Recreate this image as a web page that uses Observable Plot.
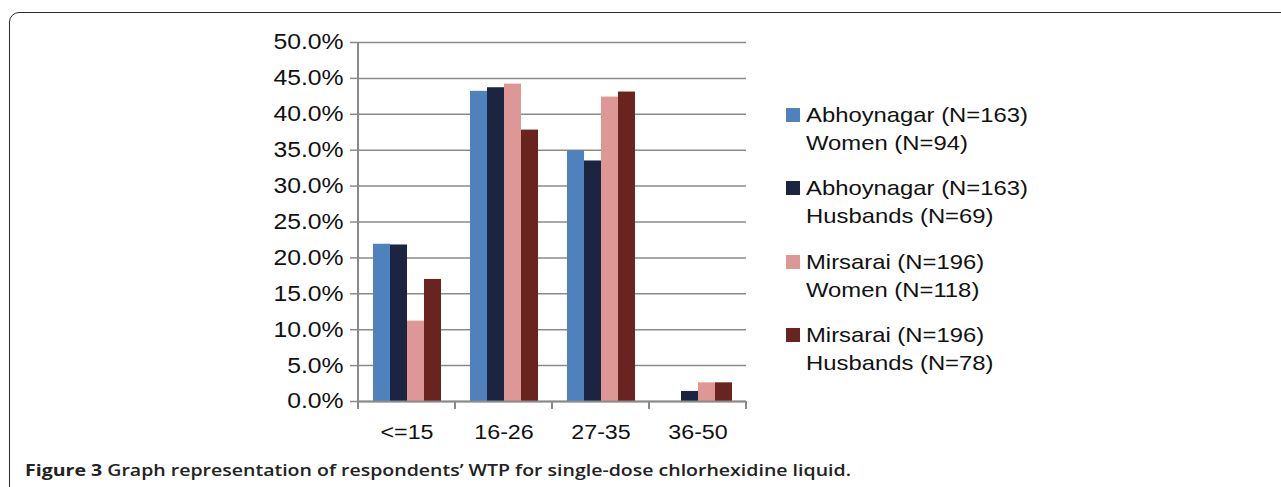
<!DOCTYPE html>
<html>
<head>
<meta charset="utf-8">
<script src="https://cdn.jsdelivr.net/npm/d3@7"></script>
<script src="https://cdn.jsdelivr.net/npm/@observablehq/plot@0.6"></script>
<style>
  html, body { margin: 0; padding: 0; background: #fff; }
  #page { position: relative; width: 1281px; height: 487px; overflow: hidden; background: #fff; }
  #frame { position: absolute; left: 9px; top: 11.5px; width: 1320px; height: 520px;
           border: 1.5px solid #2a2a2a; border-radius: 10px; box-sizing: border-box; }
  #chart { position: absolute; left: 0; top: 0; }
  #legend { position: absolute; left: 786px; top: 101px; font-family: "Liberation Sans", Arial, sans-serif;
            font-size: 21px; color: #111; }
  .item { display: flex; align-items: flex-start; height: 56px; margin-bottom: 17.3px; }
  .sw { width: 14px; height: 14px; margin-top: 7px; margin-right: 6px; flex: none; }
  .lab { line-height: 28px; white-space: nowrap; transform: scaleX(1.135); transform-origin: 0 0; }
  #caption { position: absolute; left: 25px; top: 459px; font-family: "Open Sans", sans-serif;
             font-size: 16.3px; font-weight: 600; color: #222; white-space: nowrap; transform-origin: 0 0; }
  #caption b { font-weight: 700; }
</style>
</head>
<body>
<div id="page">
  <div id="frame"></div>
  <div id="chart"></div>
  <div id="legend"></div>
  <div id="caption"><b>Figure 3</b> Graph representation of respondents’ WTP for single-dose chlorhexidine liquid.</div>
</div>
<script>
// ---- data ----
const categories = ["<=15", "16-26", "27-35", "36-50"];
const seriesNames = [
  "Abhoynagar (N=163) Women (N=94)",
  "Abhoynagar (N=163) Husbands (N=69)",
  "Mirsarai (N=196) Women (N=118)",
  "Mirsarai (N=196) Husbands (N=78)"
];
const legendLine1 = ["Abhoynagar (N=163)", "Abhoynagar (N=163)", "Mirsarai (N=196)", "Mirsarai (N=196)"];
const legendLine2 = ["Women (N=94)", "Husbands (N=69)", "Women (N=118)", "Husbands (N=78)"];
const abhoynagarWomen    = [21.9, 43.2, 34.9, 0.0];
const abhoynagarHusbands = [21.8, 43.7, 33.5, 1.4];
const mirsaraiWomen      = [11.2, 44.2, 42.4, 2.6];
const mirsaraiHusbands   = [17.0, 37.8, 43.1, 2.6];
const yTicks = [0, 5, 10, 15, 20, 25, 30, 35, 40, 45, 50];
const colors = ["#4F81BD", "#1B2541", "#DD9895", "#69241F"];

const seriesValues = [abhoynagarWomen, abhoynagarHusbands, mirsaraiWomen, mirsaraiHusbands];
const data = categories.flatMap((c, i) =>
  seriesNames.map((s, j) => ({cat: c, series: s, value: seriesValues[j][i]})));

const axisColor = "#8a8a8a";
const textStretch = 1.135;

const chart = Plot.plot({
  width: 760,
  height: 450,
  marginLeft: 356,
  marginRight: 13,
  marginTop: 42,
  marginBottom: 49,
  style: {fontFamily: "'Liberation Sans', Arial, sans-serif", fontSize: "21px", background: "transparent", color: "#111"},
  fx: {domain: categories, padding: 0, label: null},
  x: {domain: seriesNames, paddingInner: 0, paddingOuter: 0.72, axis: null},
  y: {domain: [0, 50], label: null},
  color: {domain: seriesNames, range: colors},
  marks: [
    Plot.ruleY(yTicks, {stroke: axisColor, strokeWidth: 1.5, strokeOpacity: 1}),
    Plot.barY(data, {fx: "cat", x: "series", y: "value", fill: "series"}),
    Plot.ruleY([0], {stroke: axisColor, strokeWidth: 2, strokeOpacity: 1}),
    Plot.axisY({ticks: yTicks, tickFormat: d => d.toFixed(1) + "%", tickSize: 8, tickPadding: 7,
                fontSize: 21.8, stroke: axisColor, strokeWidth: 1.5, strokeOpacity: 1, label: null}),
    Plot.axisFx({anchor: "bottom", tickSize: 0, tickPadding: 23, fontSize: 20.5, label: null})
  ]
});

// axis line and category boundary ticks from Plot's own scales
const fx = chart.scale("fx");
const ys = chart.scale("y");
const svg = d3.select(chart);
const yTop = ys.apply(50), yBase = ys.apply(0);
const left = fx.apply(categories[0]);
svg.append("line").attr("x1", left).attr("x2", left).attr("y1", yTop).attr("y2", yBase)
  .attr("stroke", axisColor).attr("stroke-width", 2);
const bounds = categories.map(c => fx.apply(c)).concat([fx.apply(categories[categories.length - 1]) + fx.bandwidth]);
svg.selectAll("line.bt").data(bounds).enter().append("line")
  .attr("x1", d => d).attr("x2", d => d).attr("y1", yBase).attr("y2", yBase + 8)
  .attr("stroke", axisColor).attr("stroke-width", 2);

// widen the tick-label glyphs like the reference (scale about each label's anchor)
svg.selectAll("g[aria-label='fx-axis tick label'] text, g[aria-label='y-axis tick label'] text").each(function() {
  const t = this.getAttribute("transform");
  if (t) {
    this.setAttribute("transform", t + ` scale(${textStretch},1)`);
  } else {
    const x = +(this.getAttribute("x") || 0);
    this.removeAttribute("x");
    this.setAttribute("transform", `translate(${x},0) scale(${textStretch},1)`);
  }
});

document.getElementById("chart").appendChild(chart);

// legend
const legend = d3.select("#legend");
seriesNames.forEach((s, i) => {
  const item = legend.append("div").attr("class", "item");
  item.append("div").attr("class", "sw").style("background", colors[i]);
  const lab = item.append("div").attr("class", "lab");
  lab.append("div").text(legendLine1[i]);
  lab.append("div").text(legendLine2[i]);
});

// fit caption to the reference's line length
const cap = document.getElementById("caption");
const targetWidth = 826;
const natural = cap.getBoundingClientRect().width;
cap.style.transform = `scaleX(${targetWidth / natural})`;
</script>
</body>
</html>
